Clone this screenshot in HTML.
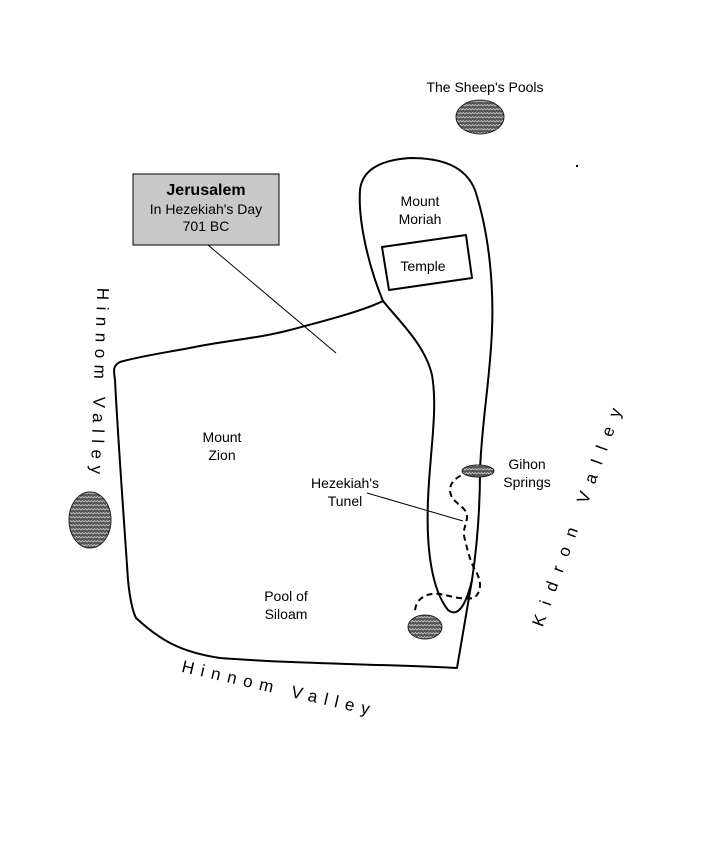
<!DOCTYPE html>
<html><head><style>
html,body{margin:0;padding:0;background:#fff}
svg{display:block}
text{font-family:"Liberation Sans",Arial,sans-serif;fill:#000}
</style></head><body>
<svg width="720" height="854" viewBox="0 0 720 854" xmlns="http://www.w3.org/2000/svg">
<defs>
<pattern id="h" width="6" height="4" patternUnits="userSpaceOnUse">
<rect width="6" height="4" fill="#555"/>
<path d="M0 2 L1.5 0.5 L3 2 L4.5 0.5 L6 2" stroke="#ccc" stroke-width="0.8" fill="none"/>
</pattern>
</defs>
<g fill="none" stroke="#000" stroke-width="2" stroke-linejoin="round">
<path d="M383,301 C360,312 320,322 290,330 C260,338 230,340 200,346 C170,352 140,356 120,362 C112,366 114,372 115,380 C118,440 124,520 128,580 C130,600 133,612 136,618 C160,640 180,652 220,658 C300,664 380,664 457,668 C462,640 467,610 472,580 C478,540 480,500 480,470 C482,420 490,380 492,330 C494,280 488,230 475,190 C465,165 440,158 410,158 C380,160 362,170 360,190 C358,220 368,265 383,301 Z"/>
<path d="M383,301 C400,322 425,345 432,375 C438,410 430,450 428,500 C426,550 432,590 448,610 C458,618 466,605 472,580"/>
<path d="M382,247 L466,235 L472,278 L389,290 Z"/>
</g>
<path d="M470,472 C455,476 447,485 451,495 C455,505 468,507 467,518 C466,526 462,530 465,540 C468,552 470,560 474,568 C482,580 482,592 474,598 C462,600 450,596 440,594 C425,592 415,600 415,612" fill="none" stroke="#000" stroke-width="2" stroke-dasharray="6,4"/>
<line x1="208" y1="245" x2="336" y2="353" stroke="#000" stroke-width="1"/>
<line x1="367" y1="493" x2="463" y2="521" stroke="#000" stroke-width="1"/>
<g fill="url(#h)" stroke="#222" stroke-width="1">
<ellipse cx="480" cy="117" rx="24" ry="17"/>
<ellipse cx="90" cy="520" rx="21" ry="28"/>
<ellipse cx="425" cy="627" rx="17" ry="12"/>
<ellipse cx="478" cy="471" rx="16" ry="6"/>
</g>
<rect x="133" y="174" width="146" height="71" fill="#c8c8c8" stroke="#000" stroke-width="1"/>
<text x="206" y="195" font-size="16" font-weight="bold" text-anchor="middle">Jerusalem</text>
<text x="206" y="214" font-size="14" text-anchor="middle">In Hezekiah's Day</text>
<text x="206" y="231" font-size="14" text-anchor="middle">701 BC</text>
<g font-size="14" text-anchor="middle">
<text x="485" y="92">The Sheep's Pools</text>
<text x="420" y="206">Mount</text>
<text x="420" y="224">Moriah</text>
<text x="423" y="271">Temple</text>
<text x="222" y="442">Mount</text>
<text x="222" y="460">Zion</text>
<text x="345" y="488">Hezekiah's</text>
<text x="345" y="506">Tunel</text>
<text x="527" y="469">Gihon</text>
<text x="527" y="487">Springs</text>
<text x="286" y="601">Pool of</text>
<text x="286" y="619">Siloam</text>
</g>
<g font-size="17">
<text transform="translate(94,384) rotate(92)" text-anchor="middle" letter-spacing="6.5">Hinnom Valley</text>
<text transform="translate(278,694) rotate(13)" text-anchor="middle" letter-spacing="7">Hinnom Valley</text>
<text transform="translate(584,514) rotate(-70)" text-anchor="middle" letter-spacing="11">Kidron Valley</text>
</g>
<rect x="576" y="165" width="2" height="2" fill="#000"/>
</svg>
</body></html>
